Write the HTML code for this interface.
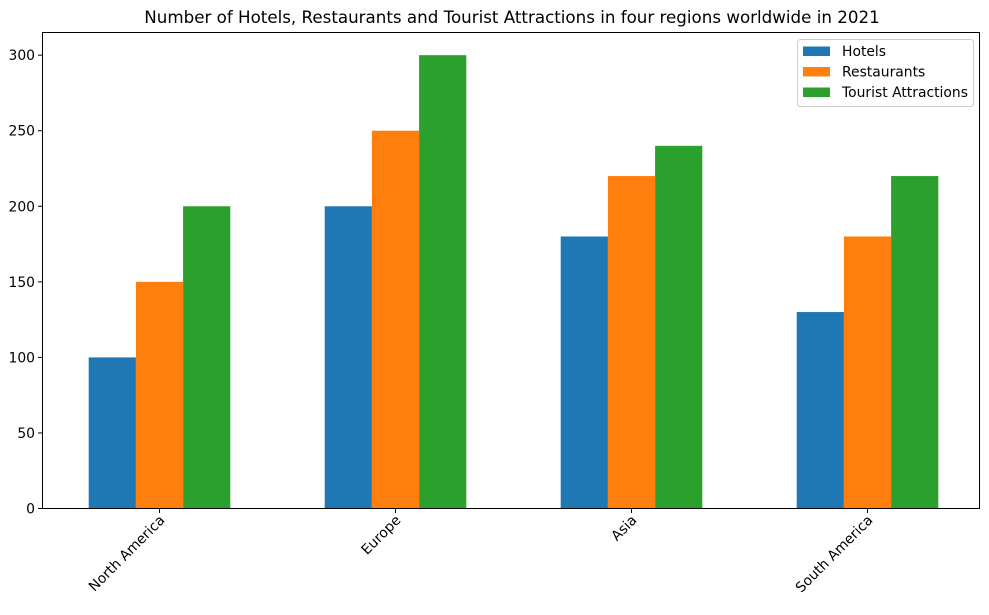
<!DOCTYPE html>
<html><head><meta charset="utf-8"><style>
body{margin:0;background:#fff;}
svg{font-family:"DejaVu Sans","Liberation Sans",sans-serif;}
</style></head><body>
<svg id="chart" width="989" height="610" xmlns="http://www.w3.org/2000/svg">
<rect width="989" height="610" fill="#fff"/>
<text x="512" y="23" font-size="16.7" text-anchor="middle">Number of Hotels, Restaurants and Tourist Attractions in four regions worldwide in 2021</text>
<g id="bars"></g>
<g id="yaxis"></g>
<g id="xaxis"></g>
<rect x="42.5" y="32.5" width="937" height="476" fill="none" stroke="#000" stroke-width="1"/>
<g>
<rect x="797.5" y="39.5" width="176" height="67" rx="3" fill="#fff" fill-opacity="0.8" stroke="#ccc"/>
<rect x="803" y="46.5" width="27" height="9.5" fill="#1f77b4"/>
<text x="842" y="56" font-size="13.9">Hotels</text>
<rect x="803" y="67" width="27" height="9.5" fill="#ff7f0e"/>
<text x="842" y="76.5" font-size="13.9">Restaurants</text>
<rect x="803" y="87.5" width="27" height="9.5" fill="#2ca02c"/>
<text x="842" y="97" font-size="13.9">Tourist Attractions</text>
</g>
</svg>
<script>
const categories = ["North America","Europe","Asia","South America"];
const hotels = [100,200,180,130];
const restaurants = [150,250,220,180];
const attractions = [200,300,240,220];
const yTicks = [0,50,100,150,200,250,300];
const seriesNames = ["hotels","restaurants","attractions"];
const colors = ["#1f77b4","#ff7f0e","#2ca02c"];
const NS="http://www.w3.org/2000/svg";
const yMax=315, y0=508.5, yTop=32.5;
function yScale(v){return y0-(v/yMax)*(y0-yTop);}
function xScale(i){return 159.5+236*i;}
const barW=47.2;
const bars=document.getElementById('bars');
[hotels,restaurants,attractions].forEach((arr,s)=>{
  arr.forEach((v,i)=>{
    const r=document.createElementNS(NS,'rect');
    const cx=xScale(i)+(s-1)*barW;
    r.setAttribute('x',cx-barW/2);
    r.setAttribute('y',yScale(v));
    r.setAttribute('width',barW);
    r.setAttribute('height',y0-yScale(v));
    r.setAttribute('fill',colors[s]);
    
    
    bars.appendChild(r);
  });
});
const ya=document.getElementById('yaxis');
yTicks.forEach(t=>{
  const y=yScale(t);
  const l=document.createElementNS(NS,'line');
  l.setAttribute('x1',38);l.setAttribute('x2',42.5);l.setAttribute('y1',y);l.setAttribute('y2',y);
  l.setAttribute('stroke','#000');
  
  
  ya.appendChild(l);
  const tx=document.createElementNS(NS,'text');
  tx.setAttribute('x',35);tx.setAttribute('y',y+5);tx.setAttribute('font-size','13.9');tx.setAttribute('text-anchor','end');
  tx.textContent=t;
  
  
  ya.appendChild(tx);
});
const xa=document.getElementById('xaxis');
categories.forEach((c,i)=>{
  const x=xScale(i);
  const l=document.createElementNS(NS,'line');
  l.setAttribute('x1',x);l.setAttribute('x2',x);l.setAttribute('y1',508.5);l.setAttribute('y2',513);
  l.setAttribute('stroke','#000');
  
  
  xa.appendChild(l);
  const tx=document.createElementNS(NS,'text');
  tx.setAttribute('transform','translate('+(x+6)+',521) rotate(-45)');
  tx.setAttribute('font-size','13.9');tx.setAttribute('text-anchor','end');
  tx.textContent=c;
  
  
  xa.appendChild(tx);
});
</script>
</body></html>
